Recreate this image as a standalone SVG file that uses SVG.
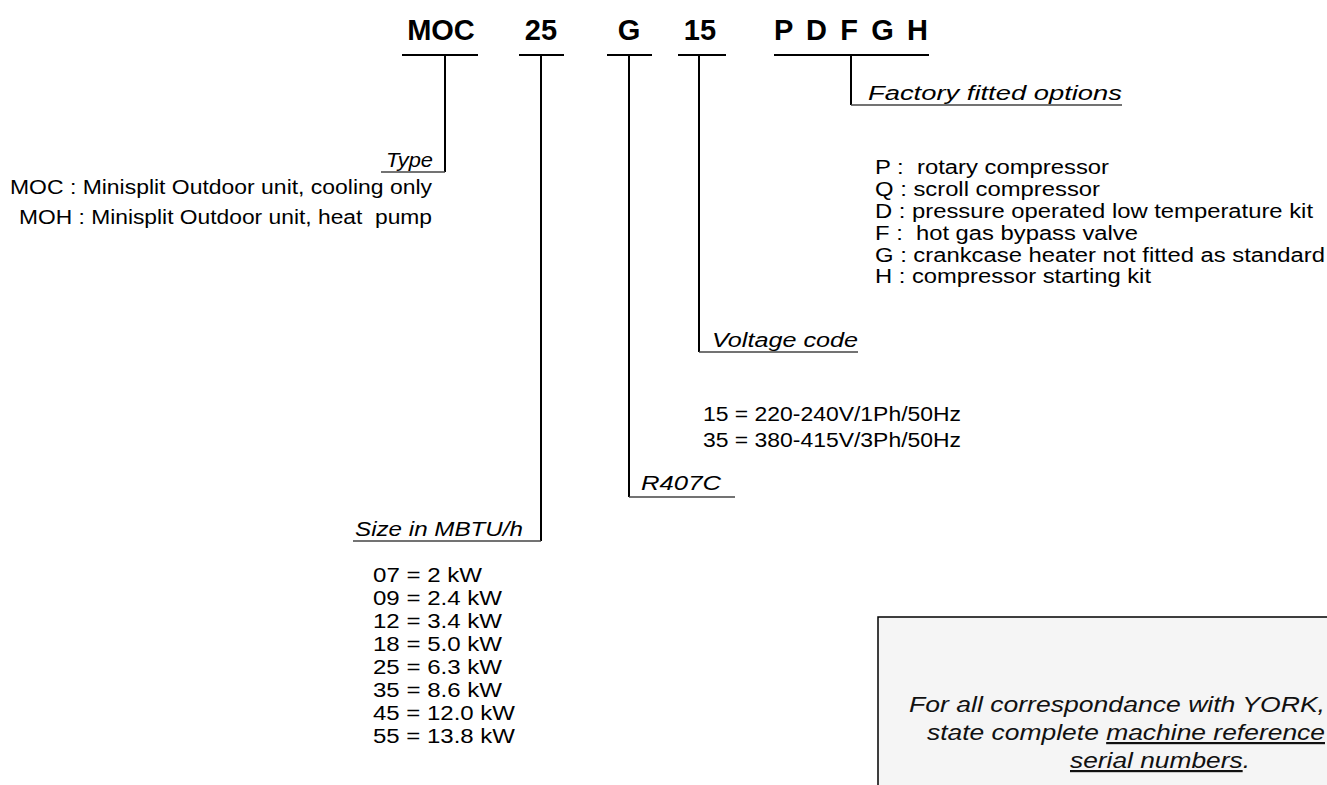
<svg xmlns="http://www.w3.org/2000/svg" width="1327" height="785" viewBox="0 0 1327 785">
<style>
.hd{font-family:"Liberation Sans",Arial,sans-serif;font-weight:bold;font-size:29px;fill:#000}
.tx{font-family:"Liberation Sans",Arial,sans-serif;font-size:20px;fill:#000}
.lb{font-family:"Liberation Sans",Arial,sans-serif;font-size:20px;font-style:italic;fill:#000}
.nt{font-family:"Liberation Sans",Arial,sans-serif;font-size:22px;font-style:italic;fill:#111}
.ln{stroke:#000;stroke-width:2;fill:none}
.ul{stroke:#444;stroke-width:1.5;fill:none}
</style>
<rect width="1327" height="785" fill="#fff"/>
<g id="header">
<text class="hd" x="441" y="40" text-anchor="middle">MOC</text>
<text class="hd" x="541" y="40" text-anchor="middle">25</text>
<text class="hd" x="629" y="40" text-anchor="middle">G</text>
<text class="hd" x="700" y="40" text-anchor="middle">15</text>
<text class="hd" x="774" y="40" textLength="154" lengthAdjust="spacing">P D F G H</text>
</g>
<g id="connectors">
<path class="ln" d="M402 55H478M445 55V172"/>
<path class="ln" d="M519 55H564M541 55V541"/>
<path class="ln" d="M607 55H652M629 55V497"/>
<path class="ln" d="M678 55H726M699 55V352"/>
<path class="ln" d="M774 55H929M851 55V105"/>
<path class="ul" d="M381 172H445"/>
<path class="ul" d="M353 541H541"/>
<path class="ul" d="M629 497H735"/>
<path class="ul" d="M699 352H858"/>
<path class="ul" d="M851 105H1122"/>
</g>
<g id="type">
<text class="lb" x="386" y="167" textLength="47" lengthAdjust="spacingAndGlyphs">Type</text>
<text class="tx" x="10" y="194" textLength="422" lengthAdjust="spacingAndGlyphs">MOC : Minisplit Outdoor unit, cooling only</text>
<text class="tx" x="19" y="224" textLength="413" lengthAdjust="spacingAndGlyphs" xml:space="preserve">MOH : Minisplit Outdoor unit, heat  pump</text>
</g>
<g id="size">
<text class="lb" x="355" y="536" textLength="168" lengthAdjust="spacingAndGlyphs">Size in MBTU/h</text>
<text class="tx" x="373" y="582" textLength="109" lengthAdjust="spacingAndGlyphs">07 = 2 kW</text>
<text class="tx" x="373" y="605" textLength="129" lengthAdjust="spacingAndGlyphs">09 = 2.4 kW</text>
<text class="tx" x="373" y="628" textLength="129" lengthAdjust="spacingAndGlyphs">12 = 3.4 kW</text>
<text class="tx" x="373" y="651" textLength="129" lengthAdjust="spacingAndGlyphs">18 = 5.0 kW</text>
<text class="tx" x="373" y="674" textLength="129" lengthAdjust="spacingAndGlyphs">25 = 6.3 kW</text>
<text class="tx" x="373" y="697" textLength="129" lengthAdjust="spacingAndGlyphs">35 = 8.6 kW</text>
<text class="tx" x="373" y="720" textLength="142" lengthAdjust="spacingAndGlyphs">45 = 12.0 kW</text>
<text class="tx" x="373" y="743" textLength="142" lengthAdjust="spacingAndGlyphs">55 = 13.8 kW</text>
</g>
<g id="refrigerant">
<text class="lb" x="641" y="490" textLength="80" lengthAdjust="spacingAndGlyphs">R407C</text>
</g>
<g id="voltage">
<text class="lb" x="712" y="347" textLength="146" lengthAdjust="spacingAndGlyphs">Voltage code</text>
<text class="tx" x="703" y="421" textLength="258" lengthAdjust="spacingAndGlyphs">15 = 220-240V/1Ph/50Hz</text>
<text class="tx" x="703" y="447" textLength="258" lengthAdjust="spacingAndGlyphs">35 = 380-415V/3Ph/50Hz</text>
</g>
<g id="options">
<text class="lb" x="868" y="100" textLength="254" lengthAdjust="spacingAndGlyphs">Factory fitted options</text>
<text class="tx" x="875" y="174" textLength="234" lengthAdjust="spacingAndGlyphs" xml:space="preserve">P :  rotary compressor</text>
<text class="tx" x="875" y="196" textLength="225" lengthAdjust="spacingAndGlyphs">Q : scroll compressor</text>
<text class="tx" x="875" y="218" textLength="438" lengthAdjust="spacingAndGlyphs">D : pressure operated low temperature kit</text>
<text class="tx" x="875" y="240" textLength="263" lengthAdjust="spacingAndGlyphs" xml:space="preserve">F :  hot gas bypass valve</text>
<text class="tx" x="875" y="262" textLength="450" lengthAdjust="spacingAndGlyphs">G : crankcase heater not fitted as standard</text>
<text class="tx" x="875" y="283" textLength="276" lengthAdjust="spacingAndGlyphs">H : compressor starting kit</text>
</g>
<g id="note">
<rect x="878" y="617" width="460" height="180" fill="#f5f5f5" stroke="#000" stroke-width="1.5"/>
<text class="nt" x="909" y="712" textLength="416" lengthAdjust="spacingAndGlyphs">For all correspondance with YORK,</text>
<text class="nt" x="927" y="740" textLength="398" lengthAdjust="spacingAndGlyphs">state complete <tspan text-decoration="underline">machine reference</tspan></text>
<text class="nt" x="1070" y="768" textLength="180" lengthAdjust="spacingAndGlyphs"><tspan text-decoration="underline">serial numbers</tspan>.</text>
</g>
</svg>
